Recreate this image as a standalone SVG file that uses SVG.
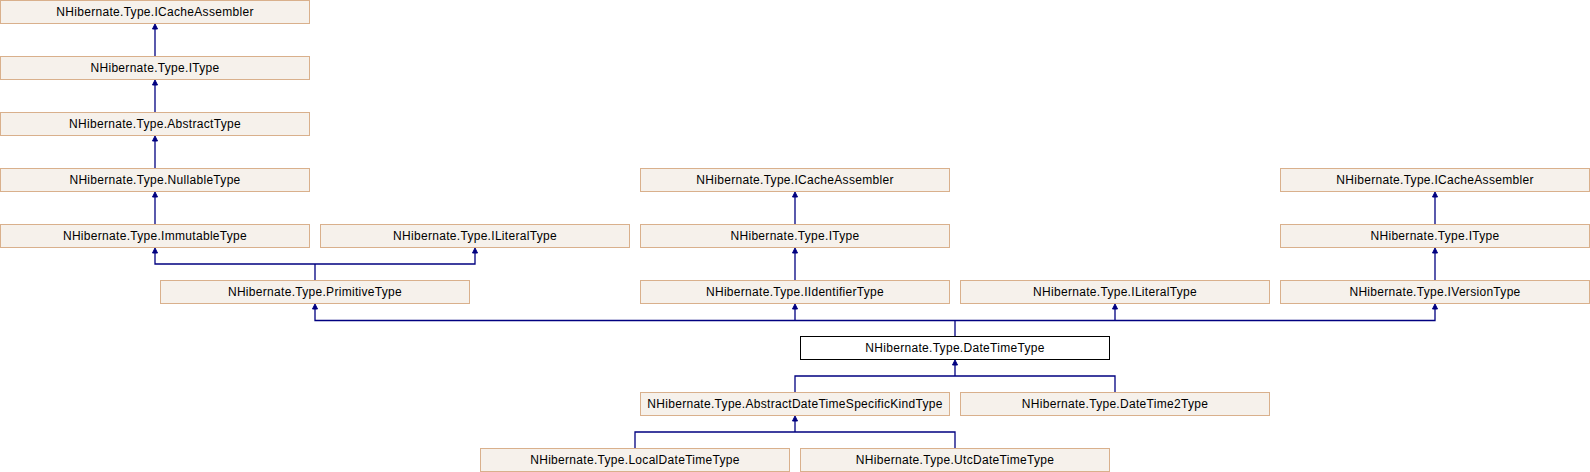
<svg xmlns="http://www.w3.org/2000/svg" width="1590" height="472" viewBox="0 0 1590 472">
<style>
.n rect{fill:#f6f1eb;stroke:#d9b08c;stroke-width:1}
.n.cur rect{fill:#ffffff;stroke:#000000}
.n text{font-family:"Liberation Sans",Arial,sans-serif;font-size:12px;fill:#000000;text-anchor:middle;letter-spacing:0.3px}
.e path{fill:none;stroke:#000080;stroke-width:1.3}
.e polygon{fill:#000080;stroke:#000080;stroke-width:1}
</style>
<rect width="1590" height="472" fill="#ffffff"/>
<g id="connectors" class="e">
<path d="M155,56V27"/><polygon points="155,24 152.5,29 157.5,29"/>
<path d="M155,112V83"/><polygon points="155,80 152.5,85 157.5,85"/>
<path d="M155,168V139"/><polygon points="155,136 152.5,141 157.5,141"/>
<path d="M155,224V195"/><polygon points="155,192 152.5,197 157.5,197"/>
<path d="M315,280V264H155V251M315,264H475V251"/><polygon points="155,248 152.5,253 157.5,253"/><polygon points="475,248 472.5,253 477.5,253"/>
<path d="M795,224V195"/><polygon points="795,192 792.5,197 797.5,197"/>
<path d="M795,280V251"/><polygon points="795,248 792.5,253 797.5,253"/>
<path d="M1435,224V195"/><polygon points="1435,192 1432.5,197 1437.5,197"/>
<path d="M1435,280V251"/><polygon points="1435,248 1432.5,253 1437.5,253"/>
<path d="M955,336V320.5H315V307M795,320.5V307M955,320.5H1435V307M1115,320.5V307"/>
<polygon points="315,304 312.5,309 317.5,309"/><polygon points="795,304 792.5,309 797.5,309"/><polygon points="1115,304 1112.5,309 1117.5,309"/><polygon points="1435,304 1432.5,309 1437.5,309"/>
<path d="M795,392V376H1115V392M955,376V363"/><polygon points="955,360 952.5,365 957.5,365"/>
<path d="M635,448V432H955V448M795,432V419"/><polygon points="795,416 792.5,421 797.5,421"/>
</g>
<g id="n1" class="n"><rect x="0.5" y="0.5" width="309" height="23"/><text x="155" y="16">NHibernate.Type.ICacheAssembler</text></g>
<g id="n2" class="n"><rect x="0.5" y="56.5" width="309" height="23"/><text x="155" y="72">NHibernate.Type.IType</text></g>
<g id="n3" class="n"><rect x="0.5" y="112.5" width="309" height="23"/><text x="155" y="128">NHibernate.Type.AbstractType</text></g>
<g id="n4" class="n"><rect x="0.5" y="168.5" width="309" height="23"/><text x="155" y="184">NHibernate.Type.NullableType</text></g>
<g id="n5" class="n"><rect x="0.5" y="224.5" width="309" height="23"/><text x="155" y="240">NHibernate.Type.ImmutableType</text></g>
<g id="n6" class="n"><rect x="320.5" y="224.5" width="309" height="23"/><text x="475" y="240">NHibernate.Type.ILiteralType</text></g>
<g id="n7" class="n"><rect x="160.5" y="280.5" width="309" height="23"/><text x="315" y="296">NHibernate.Type.PrimitiveType</text></g>
<g id="n8" class="n"><rect x="640.5" y="168.5" width="309" height="23"/><text x="795" y="184">NHibernate.Type.ICacheAssembler</text></g>
<g id="n9" class="n"><rect x="640.5" y="224.5" width="309" height="23"/><text x="795" y="240">NHibernate.Type.IType</text></g>
<g id="n10" class="n"><rect x="640.5" y="280.5" width="309" height="23"/><text x="795" y="296">NHibernate.Type.IIdentifierType</text></g>
<g id="n11" class="n"><rect x="960.5" y="280.5" width="309" height="23"/><text x="1115" y="296">NHibernate.Type.ILiteralType</text></g>
<g id="n12" class="n"><rect x="1280.5" y="168.5" width="309" height="23"/><text x="1435" y="184">NHibernate.Type.ICacheAssembler</text></g>
<g id="n13" class="n"><rect x="1280.5" y="224.5" width="309" height="23"/><text x="1435" y="240">NHibernate.Type.IType</text></g>
<g id="n14" class="n"><rect x="1280.5" y="280.5" width="309" height="23"/><text x="1435" y="296">NHibernate.Type.IVersionType</text></g>
<g id="n15" class="n cur"><rect x="800.5" y="336.5" width="309" height="23"/><text x="955" y="352">NHibernate.Type.DateTimeType</text></g>
<g id="n16" class="n"><rect x="640.5" y="392.5" width="309" height="23"/><text x="795" y="408">NHibernate.Type.AbstractDateTimeSpecificKindType</text></g>
<g id="n17" class="n"><rect x="960.5" y="392.5" width="309" height="23"/><text x="1115" y="408">NHibernate.Type.DateTime2Type</text></g>
<g id="n18" class="n"><rect x="480.5" y="448.5" width="309" height="23"/><text x="635" y="464">NHibernate.Type.LocalDateTimeType</text></g>
<g id="n19" class="n"><rect x="800.5" y="448.5" width="309" height="23"/><text x="955" y="464">NHibernate.Type.UtcDateTimeType</text></g>
</svg>
